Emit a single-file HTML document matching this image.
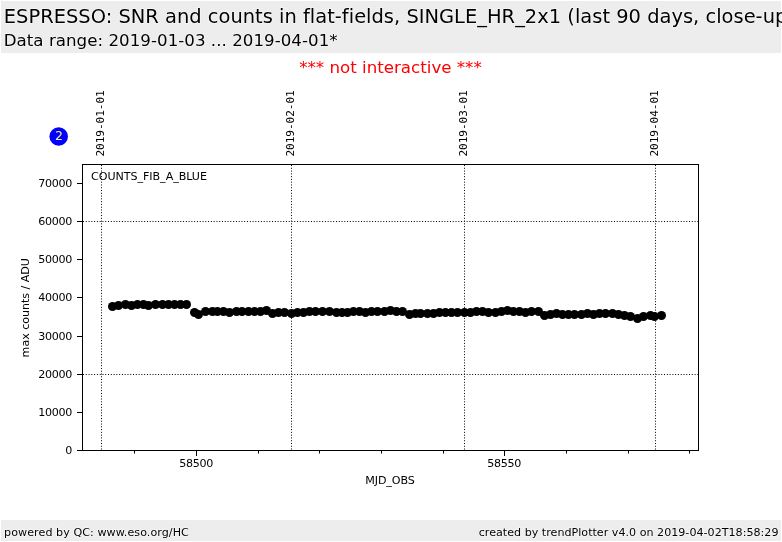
<!DOCTYPE html>
<html lang="en"><head><meta charset="utf-8"><title>ESPRESSO: SNR and counts in flat-fields, SINGLE_HR_2x1</title>
<style>html,body{margin:0;padding:0;background:#fff;overflow:hidden}svg{display:block}text{font-family:"DejaVu Sans","Liberation Sans",sans-serif;fill:#000}.halo{paint-order:stroke;stroke:#fff;stroke-opacity:.55;stroke-width:1.4px;stroke-linejoin:round}.mono{font-family:"DejaVu Sans Mono","Liberation Mono",monospace}</style></head><body>
<svg width="782" height="542" viewBox="0 0 782 542">
<rect x="0" y="0" width="782" height="542" fill="#fff"/>
<rect x="1" y="1" width="780" height="52" fill="#ededed"/>
<rect x="1" y="520" width="780" height="21" fill="#ededed"/>
<g class="halo">
<text x="3.8" y="23" font-size="19.44" letter-spacing="0.013">ESPRESSO: SNR and counts in flat-fields, SINGLE_HR_2x1 (last 90 days, close-up)</text>
<text x="3.7" y="46" font-size="16.67" letter-spacing="0.03">Data range: 2019-01-03 ... 2019-04-01*</text>
</g>
<text x="390.5" y="73" font-size="16.67" text-anchor="middle" style="fill:#f00">*** not interactive ***</text>
<text class="halo" x="4.1" y="536" font-size="11.11" letter-spacing="0.06">powered by QC: www.eso.org/HC</text>
<text class="halo" x="778.5" y="536" font-size="11.11" letter-spacing="0.01" text-anchor="end">created by trendPlotter v4.0 on 2019-04-02T18:58:29</text>
<circle cx="58.7" cy="136.5" r="9.3" fill="#0000ff"/>
<text x="58.9" y="140" font-size="12.5" text-anchor="middle" style="fill:#f4ee84">2</text>
<rect x="82.5" y="164.5" width="616.0" height="286.0" fill="#fff" stroke="#000" stroke-width="1"/>
<line x1="101.5" y1="165.0" x2="101.5" y2="450.5" stroke="#000" stroke-width="1" stroke-dasharray="1 1.78"/>
<text class="mono" font-size="11.11" letter-spacing="-0.06" transform="translate(103.7,156.6) rotate(-90)">2019-01-01</text>
<line x1="291.5" y1="165.0" x2="291.5" y2="450.5" stroke="#000" stroke-width="1" stroke-dasharray="1 1.78"/>
<text class="mono" font-size="11.11" letter-spacing="-0.06" transform="translate(294.3,156.6) rotate(-90)">2019-02-01</text>
<line x1="464.5" y1="165.0" x2="464.5" y2="450.5" stroke="#000" stroke-width="1" stroke-dasharray="1 1.78"/>
<text class="mono" font-size="11.11" letter-spacing="-0.06" transform="translate(467.3,156.6) rotate(-90)">2019-03-01</text>
<line x1="655.5" y1="165.0" x2="655.5" y2="450.5" stroke="#000" stroke-width="1" stroke-dasharray="1 1.78"/>
<text class="mono" font-size="11.11" letter-spacing="-0.06" transform="translate(658.3,156.6) rotate(-90)">2019-04-01</text>
<line x1="83.0" y1="374.5" x2="698.5" y2="374.5" stroke="#000" stroke-width="1" stroke-dasharray="1 1.78"/>
<line x1="83.0" y1="221.5" x2="698.5" y2="221.5" stroke="#000" stroke-width="1" stroke-dasharray="1 1.78"/>
<line x1="77.0" y1="450.5" x2="82.5" y2="450.5" stroke="#000" stroke-width="1"/>
<text x="72.1" y="453.6" font-size="11.11" letter-spacing="-0.3" text-anchor="end">0</text>
<line x1="77.0" y1="412.5" x2="82.5" y2="412.5" stroke="#000" stroke-width="1"/>
<text x="72.1" y="415.6" font-size="11.11" letter-spacing="-0.3" text-anchor="end">10000</text>
<line x1="77.0" y1="374.5" x2="82.5" y2="374.5" stroke="#000" stroke-width="1"/>
<text x="72.1" y="377.6" font-size="11.11" letter-spacing="-0.3" text-anchor="end">20000</text>
<line x1="77.0" y1="336.5" x2="82.5" y2="336.5" stroke="#000" stroke-width="1"/>
<text x="72.1" y="339.6" font-size="11.11" letter-spacing="-0.3" text-anchor="end">30000</text>
<line x1="77.0" y1="297.5" x2="82.5" y2="297.5" stroke="#000" stroke-width="1"/>
<text x="72.1" y="300.6" font-size="11.11" letter-spacing="-0.3" text-anchor="end">40000</text>
<line x1="77.0" y1="259.5" x2="82.5" y2="259.5" stroke="#000" stroke-width="1"/>
<text x="72.1" y="262.6" font-size="11.11" letter-spacing="-0.3" text-anchor="end">50000</text>
<line x1="77.0" y1="221.5" x2="82.5" y2="221.5" stroke="#000" stroke-width="1"/>
<text x="72.1" y="224.6" font-size="11.11" letter-spacing="-0.3" text-anchor="end">60000</text>
<line x1="77.0" y1="183.5" x2="82.5" y2="183.5" stroke="#000" stroke-width="1"/>
<text x="72.1" y="186.6" font-size="11.11" letter-spacing="-0.3" text-anchor="end">70000</text>
<line x1="134.5" y1="450.5" x2="134.5" y2="453.5" stroke="#000" stroke-width="1"/>
<line x1="196.5" y1="450.5" x2="196.5" y2="456.0" stroke="#000" stroke-width="1"/>
<text x="196.2" y="466.6" font-size="11.11" letter-spacing="-0.3" text-anchor="middle">58500</text>
<line x1="258.5" y1="450.5" x2="258.5" y2="453.5" stroke="#000" stroke-width="1"/>
<line x1="319.5" y1="450.5" x2="319.5" y2="453.5" stroke="#000" stroke-width="1"/>
<line x1="381.5" y1="450.5" x2="381.5" y2="453.5" stroke="#000" stroke-width="1"/>
<line x1="443.5" y1="450.5" x2="443.5" y2="453.5" stroke="#000" stroke-width="1"/>
<line x1="504.5" y1="450.5" x2="504.5" y2="456.0" stroke="#000" stroke-width="1"/>
<text x="504.2" y="466.6" font-size="11.11" letter-spacing="-0.3" text-anchor="middle">58550</text>
<line x1="566.5" y1="450.5" x2="566.5" y2="453.5" stroke="#000" stroke-width="1"/>
<line x1="628.5" y1="450.5" x2="628.5" y2="453.5" stroke="#000" stroke-width="1"/>
<line x1="689.5" y1="450.5" x2="689.5" y2="453.5" stroke="#000" stroke-width="1"/>
<text x="390" y="484" font-size="11.11" letter-spacing="-0.1" text-anchor="middle">MJD_OBS</text>
<text font-size="11.11" letter-spacing="-0.05" text-anchor="middle" transform="translate(29,307.8) rotate(-90)">max counts / ADU</text>
<text x="91" y="180" font-size="11.11" letter-spacing="-0.05">COUNTS_FIB_A_BLUE</text>
<g fill="#000">
<circle cx="112.5" cy="306.5" r="4.5"/>
<circle cx="118.5" cy="305.5" r="4.5"/>
<circle cx="125.5" cy="304.5" r="4.5"/>
<circle cx="131.5" cy="305.5" r="4.5"/>
<circle cx="137.5" cy="304.5" r="4.5"/>
<circle cx="143.5" cy="304.5" r="4.5"/>
<circle cx="148.5" cy="305.5" r="4.5"/>
<circle cx="155.5" cy="304.5" r="4.5"/>
<circle cx="162.5" cy="304.5" r="4.5"/>
<circle cx="168.5" cy="304.5" r="4.5"/>
<circle cx="174.5" cy="304.5" r="4.5"/>
<circle cx="180.5" cy="304.5" r="4.5"/>
<circle cx="186.5" cy="304.5" r="4.5"/>
<circle cx="194.5" cy="312.5" r="4.5"/>
<circle cx="198.5" cy="314.5" r="4.5"/>
<circle cx="205.5" cy="311.5" r="4.5"/>
<circle cx="212.5" cy="311.5" r="4.5"/>
<circle cx="217.5" cy="311.5" r="4.5"/>
<circle cx="223.5" cy="311.5" r="4.5"/>
<circle cx="229.5" cy="312.5" r="4.5"/>
<circle cx="236.5" cy="311.5" r="4.5"/>
<circle cx="242.0" cy="311.5" r="4.5"/>
<circle cx="248.5" cy="311.5" r="4.5"/>
<circle cx="254.5" cy="311.5" r="4.5"/>
<circle cx="260.5" cy="311.5" r="4.5"/>
<circle cx="266.5" cy="310.5" r="4.5"/>
<circle cx="272.5" cy="313.5" r="4.5"/>
<circle cx="278.5" cy="312.5" r="4.5"/>
<circle cx="284.5" cy="312.5" r="4.5"/>
<circle cx="291.5" cy="313.5" r="4.5"/>
<circle cx="297.5" cy="312.5" r="4.5"/>
<circle cx="303.5" cy="312.5" r="4.5"/>
<circle cx="309.5" cy="311.5" r="4.5"/>
<circle cx="315.5" cy="311.5" r="4.5"/>
<circle cx="322.5" cy="311.5" r="4.5"/>
<circle cx="329.5" cy="311.5" r="4.5"/>
<circle cx="336.5" cy="312.5" r="4.5"/>
<circle cx="342.0" cy="312.5" r="4.5"/>
<circle cx="347.5" cy="312.5" r="4.5"/>
<circle cx="353.5" cy="311.5" r="4.5"/>
<circle cx="359.5" cy="311.5" r="4.5"/>
<circle cx="365.5" cy="312.5" r="4.5"/>
<circle cx="371.5" cy="311.5" r="4.5"/>
<circle cx="377.5" cy="311.5" r="4.5"/>
<circle cx="384.5" cy="311.5" r="4.5"/>
<circle cx="390.5" cy="310.5" r="4.5"/>
<circle cx="396.5" cy="311.5" r="4.5"/>
<circle cx="402.5" cy="311.5" r="4.5"/>
<circle cx="409.5" cy="314.5" r="4.5"/>
<circle cx="415.5" cy="313.5" r="4.5"/>
<circle cx="420.5" cy="313.5" r="4.5"/>
<circle cx="427.5" cy="313.5" r="4.5"/>
<circle cx="433.5" cy="313.5" r="4.5"/>
<circle cx="439.5" cy="312.5" r="4.5"/>
<circle cx="445.5" cy="312.5" r="4.5"/>
<circle cx="451.5" cy="312.5" r="4.5"/>
<circle cx="457.5" cy="312.5" r="4.5"/>
<circle cx="464.5" cy="312.5" r="4.5"/>
<circle cx="470.5" cy="312.5" r="4.5"/>
<circle cx="476.5" cy="311.5" r="4.5"/>
<circle cx="482.5" cy="311.5" r="4.5"/>
<circle cx="488.5" cy="312.5" r="4.5"/>
<circle cx="495.5" cy="312.5" r="4.5"/>
<circle cx="501.5" cy="311.5" r="4.5"/>
<circle cx="507.5" cy="310.5" r="4.5"/>
<circle cx="513.5" cy="311.5" r="4.5"/>
<circle cx="519.5" cy="311.5" r="4.5"/>
<circle cx="525.5" cy="312.5" r="4.5"/>
<circle cx="531.5" cy="311.5" r="4.5"/>
<circle cx="538.5" cy="311.5" r="4.5"/>
<circle cx="544.5" cy="315.5" r="4.5"/>
<circle cx="550.5" cy="314.5" r="4.5"/>
<circle cx="556.5" cy="313.5" r="4.5"/>
<circle cx="562.5" cy="314.5" r="4.5"/>
<circle cx="568.5" cy="314.5" r="4.5"/>
<circle cx="574.5" cy="314.5" r="4.5"/>
<circle cx="581.5" cy="314.5" r="4.5"/>
<circle cx="587.5" cy="313.5" r="4.5"/>
<circle cx="593.5" cy="314.5" r="4.5"/>
<circle cx="599.5" cy="313.5" r="4.5"/>
<circle cx="605.5" cy="313.5" r="4.5"/>
<circle cx="612.5" cy="313.5" r="4.5"/>
<circle cx="618.5" cy="314.5" r="4.5"/>
<circle cx="624.5" cy="315.5" r="4.5"/>
<circle cx="630.5" cy="316.5" r="4.5"/>
<circle cx="637.5" cy="318.5" r="4.5"/>
<circle cx="643.5" cy="316.5" r="4.5"/>
<circle cx="650.5" cy="315.5" r="4.5"/>
<circle cx="654.5" cy="316.5" r="4.5"/>
<circle cx="661.5" cy="315.5" r="4.5"/>
</g>
</svg></body></html>
